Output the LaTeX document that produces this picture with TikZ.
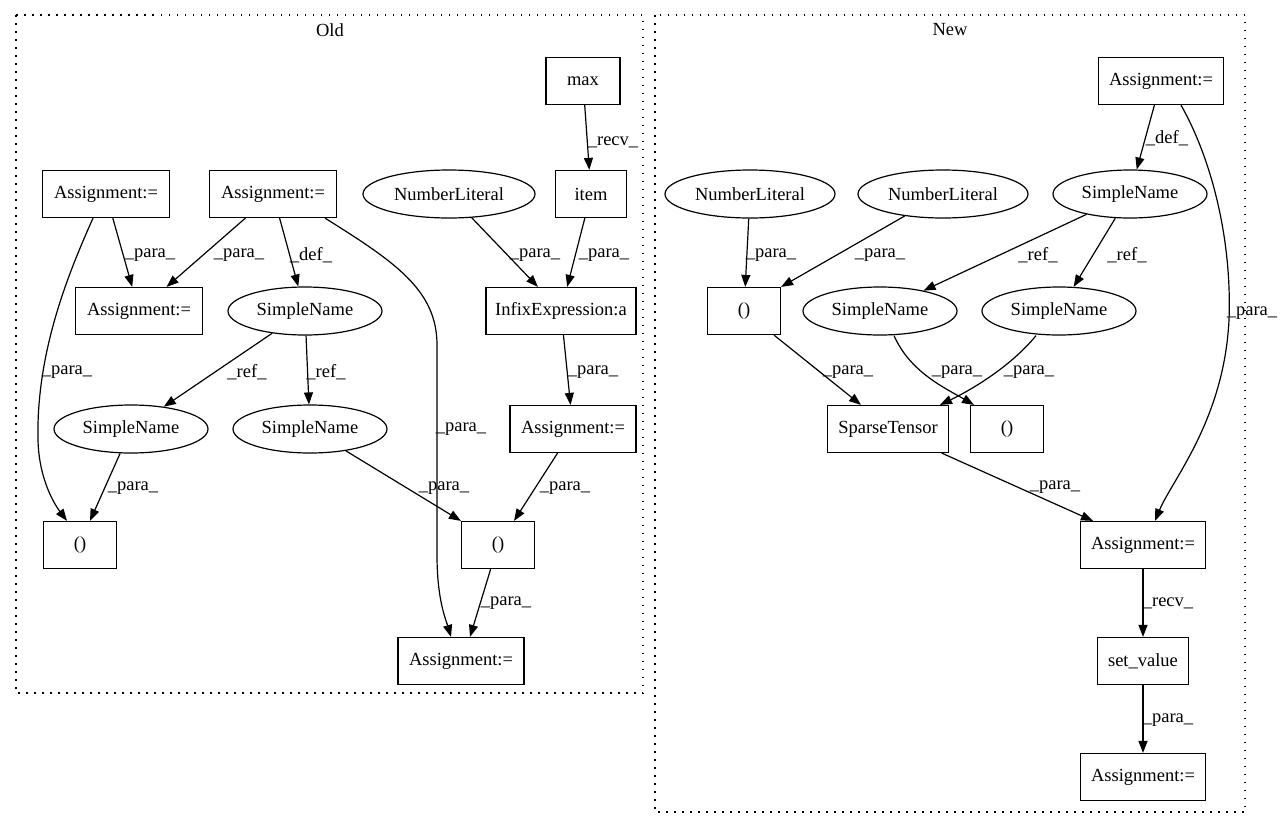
\documentclass[tikz,border=0pt]{standalone}
\usepackage{fontspec}
\setmainfont{Liberation Serif}
\usetikzlibrary{arrows.meta,shapes.geometric}
\begin{document}
\begin{tikzpicture}[x=1pt,y=-1pt,
  txt/.style={font=\fontsize{18.5}{20}\selectfont},
  box/.style={txt,draw,line width=1.2pt,rectangle,minimum height=47pt,inner sep=0pt},
  ell/.style={txt,draw,line width=1.2pt,ellipse,minimum height=48pt,inner sep=0pt},
  edge/.style={line width=1.2pt,-{Triangle[length=12pt,width=9pt]}},
  lbl/.style={txt,inner sep=0pt},
  cluster/.style={draw,line width=1.2pt,dash pattern=on 1.5pt off 6.5pt}]
\useasboundingbox (0,0) rectangle (1283,828);
% clusters
\draw[cluster] (16,15) rectangle (643,693);
\node[txt] (oldlbl) at (330,30) {Old};
\draw[cluster] (655,15) rectangle (1245,812);
\node[txt] (newlbl) at (950,30) {New};

% Old nodes
\node[box,minimum width=74pt] (max) at (583,81) {max};
\node[box,minimum width=71pt] (item) at (591,194) {item};
\node[ell,minimum width=172pt] (nl) at (449,194) {NumberLiteral};
\node[box,minimum width=127pt] (a1) at (106,194) {Assignment:=};
\node[box,minimum width=127pt] (a2) at (273,194) {Assignment:=};
\node[box,minimum width=127pt] (a3) at (139,311) {Assignment:=};
\node[ell,minimum width=154pt] (s0) at (305,311) {SimpleName};
\node[box,minimum width=150pt] (infix) at (561,311) {InfixExpression:a};
\node[box,minimum width=126pt] (a4) at (573,429) {Assignment:=};
\node[ell,minimum width=154pt] (s1) at (131,429) {SimpleName};
\node[ell,minimum width=154pt] (s2) at (310,429) {SimpleName};
\node[box,minimum width=73pt] (p1) at (80,545) {()};
\node[box,minimum width=73pt] (p2) at (498,545) {()};
\node[box,minimum width=126pt] (a5) at (461,661) {Assignment:=};

% Old edges
\draw[edge] (max) -- (item);
\node[lbl] (l1) at (613,142) {\_recv\_};
\draw[edge] (item) -- (infix);
\node[lbl] (l2) at (604,255) {\_para\_};
\draw[edge] (nl) -- (infix);
\node[lbl] (l3) at (535,255) {\_para\_};
\draw[edge] (a1) -- (a3);
\node[lbl] (l4) at (150,255) {\_para\_};
\draw[edge] (a2) -- (a3);
\node[lbl] (l5) at (239,255) {\_para\_};
\draw[edge] (a2) -- (s0);
\node[lbl] (l6) at (311,255) {\_def\_};
\draw[edge] ([xshift=52pt]a2.south) .. controls (395,262) and (437,290) .. (437,345)
   -- (437,555) .. controls (437,600) and (446,620) .. ([xshift=-10pt]a5.north);
\node[lbl] (l7) at (461,429) {\_para\_};
\draw[edge] ([xshift=-13pt]a1.south) .. controls (70,270) and (36,350) .. (38,440)
   .. controls (39,480) and (55,505) .. ([xshift=-13pt]p1.north);
\node[lbl] (l8) at (67,372) {\_para\_};
\draw[edge] (s0) -- (s1);
\node[lbl] (l9) at (247,372) {\_ref\_};
\draw[edge] (s0) -- (s2);
\node[lbl] (l10) at (326,372) {\_ref\_};
\draw[edge] (infix) -- (a4);
\node[lbl] (l11) at (593,372) {\_para\_};
\draw[edge] (s1) -- ([xshift=10pt]p1.north);
\node[lbl] (l12) at (133,488) {\_para\_};
\draw[edge] (s2) -- (p2.north west);
\node[lbl] (l13) at (444,488) {\_para\_};
\draw[edge] (a4) -- ([xshift=16pt]p2.north);
\node[lbl] (l14) at (565,488) {\_para\_};
\draw[edge] (p2) -- ([xshift=9pt]a5.north);
\node[lbl] (l15) at (506,603) {\_para\_};

% New nodes
\node[box,minimum width=125pt] (b1) at (1161,81) {Assignment:=};
\node[ell,minimum width=170pt] (nl1) at (750,194) {NumberLiteral};
\node[ell,minimum width=170pt] (nl2) at (943,194) {NumberLiteral};
\node[ell,minimum width=154pt] (sn0) at (1130,194) {SimpleName};
\node[box,minimum width=73pt] (p3) at (744,311) {()};
\node[ell,minimum width=154pt] (sn1) at (880,311) {SimpleName};
\node[ell,minimum width=154pt] (sn2) at (1059,311) {SimpleName};
\node[box,minimum width=121pt] (st) at (888,429) {SparseTensor};
\node[box,minimum width=73pt] (p4) at (1007,429) {()};
\node[box,minimum width=125pt] (b2) at (1143,545) {Assignment:=};
\node[box,minimum width=91pt] (sv) at (1143,661) {set\_value};
\node[box,minimum width=125pt] (b3) at (1143,777) {Assignment:=};

% New edges
\draw[edge] (b1) -- (sn0);
\node[lbl] (m1) at (1167,138) {\_def\_};
\draw[edge] ([xshift=20pt]b1.south) .. controls (1212,160) and (1232,240) .. (1229,320)
   .. controls (1224,420) and (1172,480) .. ([xshift=12pt]b2.north);
\node[lbl] (m2) at (1252,313) {\_para\_};
\draw[edge] (nl1) -- (p3);
\node[lbl] (m3) at (771,255) {\_para\_};
\draw[edge] (nl2) -- (p3.north east);
\node[lbl] (m4) at (880,255) {\_para\_};
\draw[edge] (sn0) -- (sn1);
\node[lbl] (m5) at (1038,255) {\_ref\_};
\draw[edge] (sn0) -- (sn2);
\node[lbl] (m6) at (1127,255) {\_ref\_};
\draw[edge] (p3) -- ([xshift=-27pt]st.north);
\node[lbl] (m7) at (848,372) {\_para\_};
\draw[edge] ([xshift=14pt]sn1.south) .. controls (910,372) and (945,388) .. ([xshift=-33pt]p4.north);
\node[lbl] (m8) at (957,372) {\_para\_};
\draw[edge] ([xshift=-23pt]sn2.south) .. controls (1012,365) and (975,388) .. ([xshift=52pt]st.north);
\node[lbl] (m9) at (1029,372) {\_para\_};
\draw[edge] (st) -- ([xshift=-50pt]b2.north);
\node[lbl] (m10) at (1055,487) {\_para\_};
\draw[edge] (b2) -- (sv);
\node[lbl] (m11) at (1168,603) {\_recv\_};
\draw[edge] (sv) -- (b3);
\node[lbl] (m12) at (1168,720) {\_para\_};
\end{tikzpicture}
\end{document}
